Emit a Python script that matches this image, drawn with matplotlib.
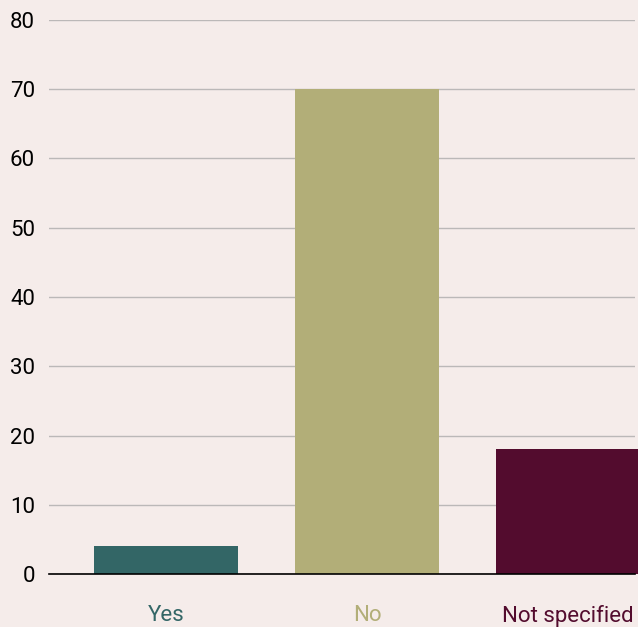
import matplotlib.pyplot as plt

categories = ["Yes", "No", "Not specified"]
counts = [4, 70, 18]
colors = ["#336666", "#B2AE78", "#530C2E"]

bg = "#F5ECEA"

fig = plt.figure(figsize=(6.38, 6.27), dpi=100, facecolor=bg)
ax = fig.add_axes([49 / 638, 1 - 574 / 627, 586 / 638, 554 / 627], facecolor=bg)

x = range(len(categories))
bars = ax.bar(x, counts, width=0.716, color=colors, zorder=3)
for b in bars:
    b.set_clip_on(False)

ax.set_ylim(0, 80)
ax.set_xlim(-0.582, 2.333)
ax.set_yticks(range(0, 81, 10))
ax.grid(True, axis="y", color="#BBB8B8", linewidth=1.0, zorder=0)
ax.grid(False, axis="x")

for s in ["top", "right", "left"]:
    ax.spines[s].set_visible(False)
ax.spines["bottom"].set_color("#000000")
ax.spines["bottom"].set_linewidth(1.2)
ax.spines["bottom"].set_zorder(4)

ax.tick_params(axis="y", length=0, pad=10, labelsize=16, labelcolor="#000000")
ax.tick_params(axis="x", length=0, pad=22, labelsize=16)
for lbl in ax.get_yticklabels():
    lbl.set_fontfamily("Roboto")
    lbl.set_fontweight("normal")

ax.set_xticks(list(x))
ax.set_xticklabels(categories, fontfamily="Roboto", fontweight="normal")
for lbl, c in zip(ax.get_xticklabels(), colors):
    lbl.set_color(c)

fig.savefig("out.png", dpi=100, facecolor=bg)
